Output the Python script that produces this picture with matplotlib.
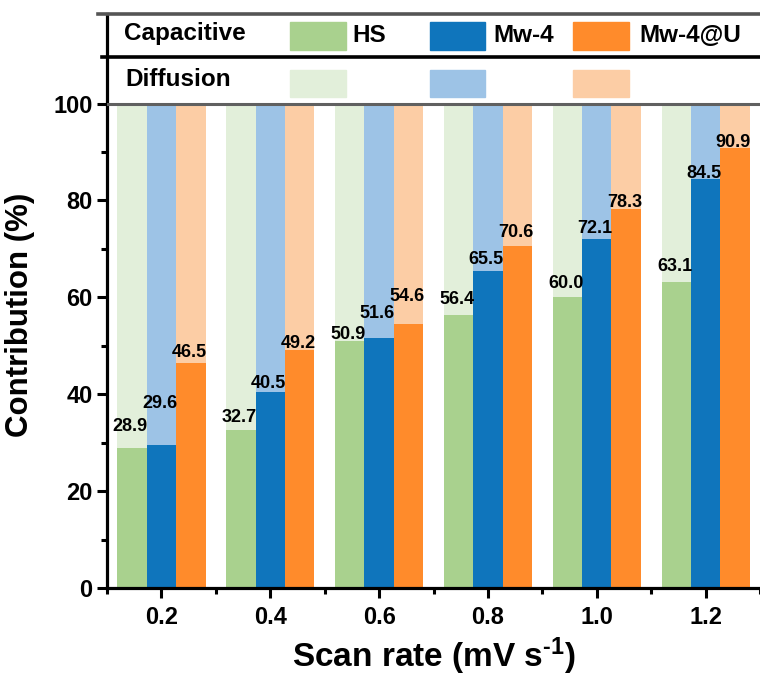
import matplotlib
matplotlib.use("Agg")
import matplotlib.pyplot as plt
import numpy as np

plt.rcParams['font.family'] = ['Liberation Sans', 'DejaVu Sans']
plt.rcParams['font.weight'] = 'bold'
plt.rcParams['mathtext.fontset'] = 'custom'
plt.rcParams['mathtext.rm'] = 'Liberation Sans:bold'
plt.rcParams['mathtext.bf'] = 'Liberation Sans:bold'
plt.rcParams['mathtext.default'] = 'bf'

# --- datos ---
scan_rates = [0.2, 0.4, 0.6, 0.8, 1.0, 1.2]
tick_labels = ['0.2', '0.4', '0.6', '0.8', '1.0', '1.2']
samples = ['HS', 'Mw-4', 'Mw-4@U']
cap_hs = [28.9, 32.7, 50.9, 56.4, 60.0, 63.1]
cap_mw4 = [29.6, 40.5, 51.6, 65.5, 72.1, 84.5]
cap_mw4u = [46.5, 49.2, 54.6, 70.6, 78.3, 90.9]

# separación (px) entre la barra y su etiqueta, colocada a mano en el original
label_gap_px = [
    [17, 8, 2, 11, 9, 11],
    [37, 4, 20, 7, 6, 1],
    [6, 2, 23, 9, 2, 1],
]

dark_colors = ['#A9D18E', '#0F75BC', '#FF8B2B']
light_colors = ['#E2EFDA', '#9DC3E6', '#FCCDA5']

fig = plt.figure(figsize=(7.6, 6.77), dpi=100)
ax = fig.add_axes([0.1408, 0.1315, 0.8592, 0.8478])

ax.set_xlim(0.1, 1.29)
ax.set_ylim(0, 118.5)
px_per_unit = 0.8478 * 677 / 118.5

w = 0.054
x = np.array(scan_rates)
series = [cap_hs, cap_mw4, cap_mw4u]
for i, vals in enumerate(series):
    xs = x + (i - 1) * w
    vals = np.array(vals)
    ax.bar(xs, vals, width=w, color=dark_colors[i], zorder=2)
    ax.bar(xs, 100 - vals, bottom=vals, width=w, color=light_colors[i], zorder=2)
    # etiquetas de valor capacitivo
    for xx, v, g in zip(xs, vals, label_gap_px[i]):
        ax.text(xx - 0.003, v + g / px_per_unit, f'{v:.1f}', ha='center', va='baseline',
                fontsize=13, fontweight='bold', zorder=4)

# --- leyenda tipo tabla ---
ax.axhline(100, color='#606060', lw=2.2, zorder=3)
ax.plot([-0.008, 1], [109.6, 109.6], color='black', lw=2.6,
        transform=ax.get_yaxis_transform(), clip_on=False, zorder=3)
ax.plot([-0.014, 1], [118.5, 118.5], color='#555555', lw=2.6,
        transform=ax.get_yaxis_transform(), clip_on=False, zorder=3)

ax.text(0.131, 114.5, 'Capacitive', ha='left', va='center', fontsize=17.5, fontweight='bold')
ax.text(0.134, 104.9, 'Diffusion', ha='left', va='center', fontsize=17.5, fontweight='bold')
patch_x = [0.4367, 0.6933, 0.957]
text_x = [0.551, 0.8097, 1.079]
pw = 0.102
for i, name in enumerate(samples):
    ax.add_patch(plt.Rectangle((patch_x[i], 111.0), pw, 5.8, color=dark_colors[i], zorder=3))
    ax.add_patch(plt.Rectangle((patch_x[i], 101.3), pw, 5.6, color=light_colors[i], zorder=3))
    ax.text(text_x[i], 114.0, name, ha='left', va='center', fontsize=17.5, fontweight='bold')

# --- ejes ---
for s in ['right', 'top']:
    ax.spines[s].set_visible(False)
for s in ['left', 'bottom']:
    ax.spines[s].set_linewidth(2.3)

ax.set_yticks([0, 20, 40, 60, 80, 100])
ax.set_yticks([10, 30, 50, 70, 90], minor=True)
ax.set_xticks(scan_rates)
ax.set_xticklabels(tick_labels)
ax.set_xticks([0.1, 0.3, 0.5, 0.7, 0.9, 1.1, 1.3], minor=True)
ax.tick_params(which='major', direction='out', length=7, width=2.2, labelsize=17)
ax.tick_params(which='minor', direction='out', length=4, width=2.2)
ax.tick_params(axis='x', which='major', pad=6)
for lab in ax.get_xticklabels() + ax.get_yticklabels():
    lab.set_fontweight('bold')

ax.set_ylabel('Contribution (%)', fontsize=22.5, fontweight='bold')
ax.yaxis.set_label_coords(-0.110, 0.4756)
ax.set_xlabel(r'Scan rate (mV s$^{\text{-}1}$)', fontsize=24, fontweight='bold', labelpad=5)

fig.savefig('out.png', dpi=100)
